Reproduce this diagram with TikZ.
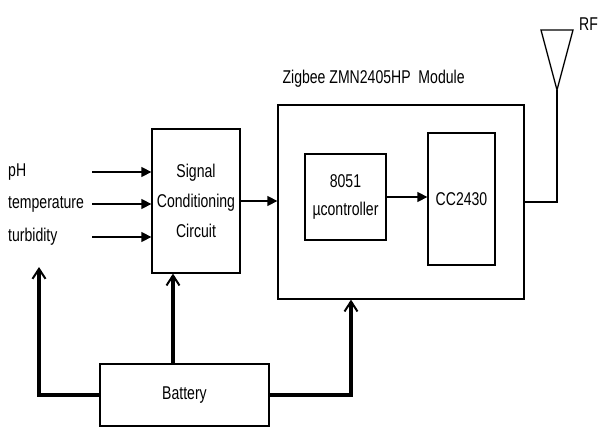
\documentclass[tikz,border=0pt]{standalone}
\usepackage{fontspec}
\setmainfont[FakeStretch=0.76]{Liberation Sans}
\usetikzlibrary{arrows.meta,positioning,calc}

\begin{document}
\begin{tikzpicture}[x=1pt,y=-1pt,
    font=\fontsize{18.5}{30}\selectfont,
    blk/.style={draw,line width=1.3pt,align=center,inner sep=0pt},
    sig/.style={line width=1.5pt,-{Triangle[length=10pt,width=10pt]}},
    pwr/.style={line width=3.4pt,-{Straight Barb[length=10pt,width=13pt,line width=2pt]}}]
    \useasboundingbox (0,0) rectangle (598,428);
    \node[blk,minimum width=88pt,minimum height=144pt] (signal) at (196,201) {Signal\\Conditioning\\Circuit};
    \node[blk,minimum width=246pt,minimum height=194pt] (module) at (401,202) {};
    \node[anchor=south west,inner sep=0pt] (title) at ([xshift=5pt,yshift=17pt]module.north west) {Zigbee ZMN2405HP\ \ Module};
    \node[blk,minimum width=81pt,minimum height=86pt,font=\fontsize{18.5}{28}\selectfont] (mcu) at (345.5,197) {8051\\µcontroller};
    \node[blk,minimum width=67pt,minimum height=132pt] (cc) at (461.5,199) {CC2430};
    \node[blk,minimum width=169pt,minimum height=62pt] (battery) at (184.5,395) {Battery};
    \node[anchor=west,inner sep=0pt] (ph) at (8,172) {pH};
    \node[anchor=west,inner sep=0pt] (temp) at (8,204) {temperature};
    \node[anchor=west,inner sep=0pt] (turb) at (8,237) {turbidity};
    \node[anchor=west,inner sep=0pt] (rf) at (579,24) {RF};
    \coordinate (tin) at (92,0);
    \coordinate (ant) at (557,90);
    \coordinate (pin) at (39,267);
    \draw[sig] (ph -| tin) -- (ph -| signal.west);
    \draw[sig] (temp -| tin) -- (temp -| signal.west);
    \draw[sig] (turb -| tin) -- (turb -| signal.west);
    \draw[sig] (signal.east) -- (signal.east -| module.west);
    \draw[sig] (mcu.east) -- (mcu.east -| cc.west);
    \draw[line width=1.3pt] (module.east) -| (ant);
    \draw[line width=1.3pt,line join=miter] (ant) -- ++(-16,-60) -- ++(32,0) -- cycle;
    \draw[pwr] (battery.west) -| (pin);
    \draw[pwr] ([xshift=-11.5pt]battery.north) -- ([xshift=-11.5pt]battery.north |- signal.south);
    \draw[pwr] (battery.east) -| ([xshift=-50pt]module.south);
\end{tikzpicture}
\end{document}
